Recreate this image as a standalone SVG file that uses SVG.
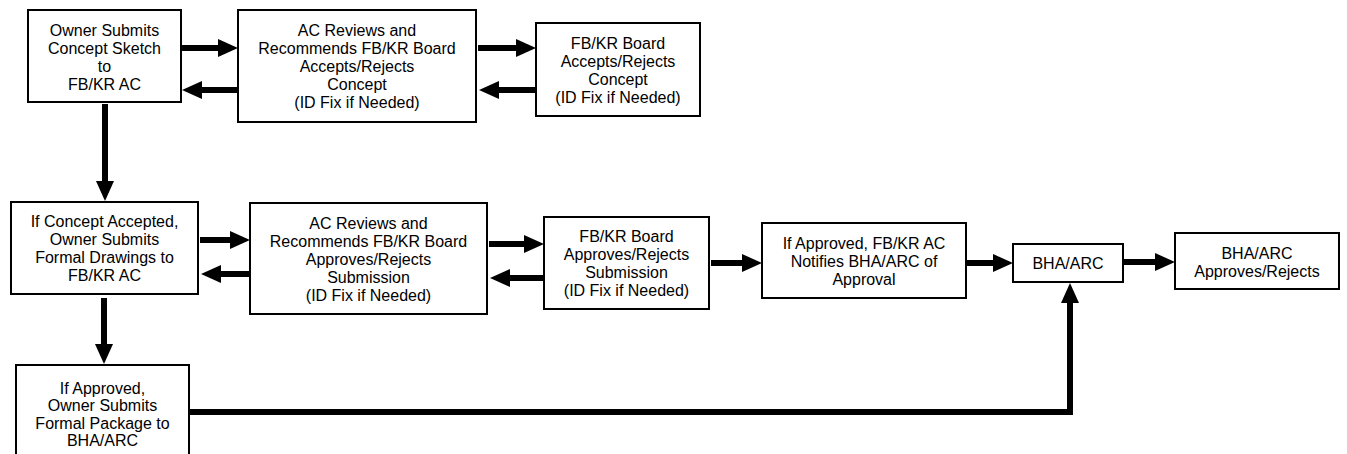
<svg xmlns="http://www.w3.org/2000/svg" width="1347" height="454" viewBox="0 0 1347 454">
<style>
.box{fill:#fff;stroke:#000;stroke-width:2}
.t{font-family:"Liberation Sans",Arial,sans-serif;font-size:16px;fill:#000;text-anchor:middle}
.c{fill:none;stroke:#000;stroke-width:6;stroke-linejoin:miter}
</style>
<defs>
<marker id="ah" markerUnits="userSpaceOnUse" markerWidth="20" markerHeight="18" refX="4" refY="9" orient="auto" viewBox="0 0 20 18">
<path d="M0,0 L20,9 L0,18 z" fill="#000"/>
</marker>
</defs>
<rect width="1347" height="454" fill="#fff"/>
<g id="n1"><rect class="box" x="28" y="10" width="153" height="92"/>
<text class="t" x="104.5"><tspan x="104.5" y="36">Owner Submits</tspan><tspan x="104.5" y="54">Concept Sketch</tspan><tspan x="104.5" y="72">to</tspan><tspan x="104.5" y="90">FB/KR AC</tspan></text></g>
<g id="n2"><rect class="box" x="238" y="10" width="238" height="112"/>
<text class="t"><tspan x="357" y="36">AC Reviews and</tspan><tspan x="357" y="54">Recommends FB/KR Board</tspan><tspan x="357" y="72">Accepts/Rejects</tspan><tspan x="357" y="90">Concept</tspan><tspan x="357" y="108">(ID Fix if Needed)</tspan></text></g>
<g id="n3"><rect class="box" x="536" y="23" width="164" height="93"/>
<text class="t"><tspan x="618" y="49">FB/KR Board</tspan><tspan x="618" y="67">Accepts/Rejects</tspan><tspan x="618" y="85">Concept</tspan><tspan x="618" y="103">(ID Fix if Needed)</tspan></text></g>
<g id="n4"><rect class="box" x="11" y="202" width="187" height="92"/>
<text class="t"><tspan x="104.5" y="227">If Concept Accepted,</tspan><tspan x="104.5" y="245">Owner Submits</tspan><tspan x="104.5" y="263">Formal Drawings to</tspan><tspan x="104.5" y="281">FB/KR AC</tspan></text></g>
<g id="n5"><rect class="box" x="250" y="203" width="237" height="111"/>
<text class="t"><tspan x="368.5" y="229">AC Reviews and</tspan><tspan x="368.5" y="247">Recommends FB/KR Board</tspan><tspan x="368.5" y="265">Approves/Rejects</tspan><tspan x="368.5" y="283">Submission</tspan><tspan x="368.5" y="301">(ID Fix if Needed)</tspan></text></g>
<g id="n6"><rect class="box" x="544" y="217" width="165" height="92"/>
<text class="t"><tspan x="626.5" y="242">FB/KR Board</tspan><tspan x="626.5" y="260">Approves/Rejects</tspan><tspan x="626.5" y="278">Submission</tspan><tspan x="626.5" y="296">(ID Fix if Needed)</tspan></text></g>
<g id="n7"><rect class="box" x="762" y="223" width="204" height="75"/>
<text class="t"><tspan x="864" y="249">If Approved, FB/KR AC</tspan><tspan x="864" y="267">Notifies BHA/ARC of</tspan><tspan x="864" y="285">Approval</tspan></text></g>
<g id="n8"><rect class="box" x="1013" y="244" width="110" height="38"/>
<text class="t" x="1068" y="269">BHA/ARC</text></g>
<g id="n9"><rect class="box" x="1175" y="233" width="164" height="56"/>
<text class="t"><tspan x="1257" y="259">BHA/ARC</tspan><tspan x="1257" y="277">Approves/Rejects</tspan></text></g>
<g id="n10"><rect class="box" x="16" y="365" width="173" height="100"/>
<text class="t"><tspan x="102.5" y="394">If Approved,</tspan><tspan x="102.5" y="411">Owner Submits</tspan><tspan x="102.5" y="429">Formal Package to</tspan><tspan x="102.5" y="446">BHA/ARC</tspan></text></g>
<g id="connectors">
<path class="c" marker-end="url(#ah)" d="M182,48 H222"/>
<path class="c" marker-end="url(#ah)" d="M238,90 H198"/>
<path class="c" marker-end="url(#ah)" d="M478,48 H520"/>
<path class="c" marker-end="url(#ah)" d="M536,90 H495"/>
<path class="c" marker-end="url(#ah)" d="M105,104 V185"/>
<path class="c" marker-end="url(#ah)" d="M200,240 H234"/>
<path class="c" marker-end="url(#ah)" d="M250,274 H217"/>
<path class="c" marker-end="url(#ah)" d="M489,244 H528"/>
<path class="c" marker-end="url(#ah)" d="M544,278 H506"/>
<path class="c" marker-end="url(#ah)" d="M711,263 H746"/>
<path class="c" marker-end="url(#ah)" d="M967,263 H997"/>
<path class="c" marker-end="url(#ah)" d="M1124,262 H1159"/>
<path class="c" marker-end="url(#ah)" d="M104,298 V348"/>
<path class="c" marker-end="url(#ah)" d="M190,412 H1070 V299"/>
</g>
</svg>
